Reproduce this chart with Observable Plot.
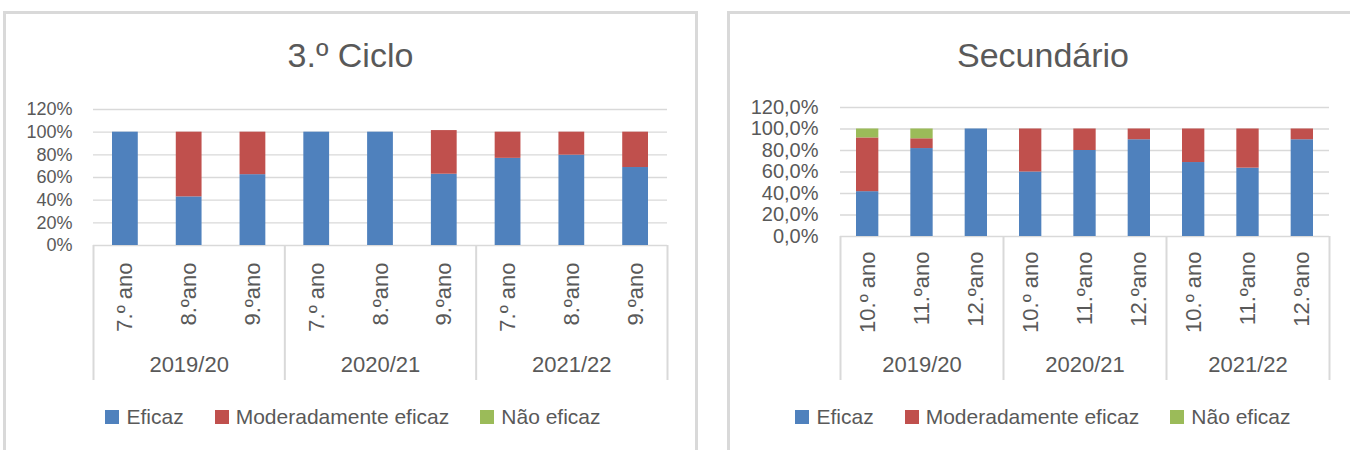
<!DOCTYPE html>
<html>
<head>
<meta charset="utf-8">
<script src="https://cdn.jsdelivr.net/npm/d3@7"></script>
<script src="https://cdn.jsdelivr.net/npm/@observablehq/plot@0.6"></script>
<style>
  html, body { margin: 0; padding: 0; background: #ffffff; }
  body { width: 1350px; height: 450px; overflow: hidden; position: relative;
         font-family: "Liberation Sans", Arial, sans-serif; color: #595959; }
  .panel { position: absolute; top: 11px; height: 470px; border: 3px solid #d9d9d9;
           border-bottom: none; box-sizing: border-box; }
  .title { position: absolute; text-align: center; font-size: 34px;
           line-height: 34px; color: #595959; }
  .chart { position: absolute; }
  .legend { position: absolute; }
  .lg-swatch { margin-right: 31px !important; }
  .lg-swatch:last-child { margin-right: 0 !important; }
  .lg-swatch > svg { margin-right: 7px !important; }
</style>
</head>
<body>
<div class="panel" id="p1" style="left:3px; width:695px;"></div>
<div class="panel" id="p2" style="left:727px; width:660px;"></div>
<div class="title" style="top:38px; left:3px; width:695px;">3.º Ciclo</div>
<div class="title" style="top:38px; left:727px; width:632px;">Secundário</div>
<div class="chart" id="c1" style="left:0px; top:80px;"></div>
<div class="chart" id="c2" style="left:720px; top:80px;"></div>
<div class="legend" id="l1" style="left:3px; width:700px; top:400px;"></div>
<div class="legend" id="l2" style="left:727px; width:632px; top:400px;"></div>
<script>
// ---------- data ----------
const years = ["2019/20", "2020/21", "2021/22"];
const seriesNames = ["Eficaz", "Moderadamente eficaz", "Não eficaz"];
const seriesColors = ["#4F81BD", "#C0504D", "#9BBB59"];

const cicloGrades = ["7.º ano", "8.ºano", "9.ºano"];
const cicloEficaz    = [100, 42.9, 62.5, 100, 100, 62.9, 76.9, 79.7, 68.8];
const cicloModerado  = [0,   57.1, 37.5, 0,   0,   38.5, 23.1, 20.3, 31.2];
const cicloNaoEficaz = [0,   0,    0,    0,   0,   0,    0,    0,    0];

const secGrades = ["10.º ano", "11.ºano", "12.ºano"];
const secEficaz    = [41.7, 81.8, 100, 60, 80, 90, 68.8, 63.6, 90];
const secModerado  = [50.0, 9.1,  0,   40, 20, 10, 31.2, 36.4, 10];
const secNaoEficaz = [8.3,  9.1,  0,   0,  0,  0,  0,    0,    0];

const yTicks = [0, 20, 40, 60, 80, 100, 120];

// ---------- drawing ----------
const FONT = '"Liberation Sans", Arial, sans-serif';
const TXT = "#595959";
const GRID = "#d9d9d9";

function makeChart(grades, series, fmt, g) {
  const rows = [];
  years.forEach((yr, gi) => grades.forEach((gr, k) => {
    const i = gi * grades.length + k;
    seriesNames.forEach((s, j) => {
      if (series[j][i] > 0) rows.push({pos: i, year: yr, grade: gr, series: s, value: series[j][i]});
    });
  }));
  const n = years.length * grades.length;
  const centers = d3.range(n).map(i => i + 0.5);
  const bounds = d3.range(years.length + 1).map(k => k * grades.length);
  const yearCenters = years.map((_, k) => k * grades.length + grades.length / 2);
  return Plot.plot({
    width: g.width, height: g.height,
    marginLeft: g.ml, marginRight: g.mr, marginTop: g.mt, marginBottom: g.mb,
    style: {fontFamily: FONT, color: TXT, background: "transparent", overflow: "visible"},
    x: {domain: [0, n]},
    y: {domain: [0, 120]},
    color: {domain: seriesNames, range: seriesColors},
    marks: [
      Plot.ruleY(yTicks, {stroke: GRID, strokeWidth: 1.4}),
      Plot.rectY(rows, {x1: "pos", x2: d => d.pos + 1, y: "value", fill: "series",
                        insetLeft: g.inset, insetRight: g.inset}),
      Plot.axisY(yTicks, {tickFormat: fmt, tickSize: 0, tickPadding: g.yPad,
                          fontSize: g.yFont, fill: TXT, label: null}),
      Plot.axisX(bounds, {tickSize: g.sepLen, tickFormat: () => "", stroke: GRID,
                          strokeWidth: 2, strokeOpacity: 1, label: null}),
      Plot.axisX(centers, {tickFormat: d => grades[Math.floor(d) % grades.length],
                           tickRotate: -90, tickSize: 0, tickPadding: g.gradePad,
                           fontSize: 22, fill: TXT, label: null}),
      Plot.axisX(yearCenters, {tickFormat: d => years[Math.floor(d / grades.length)],
                               tickSize: 0, tickPadding: g.yearPad,
                               fontSize: 22, fill: TXT, label: null})
    ]
  });
}

function addLegend(chart, el) {
  const leg = chart.legend("color", {
    className: "lg", swatchSize: 14,
    style: {fontSize: "21px", fontFamily: FONT, color: TXT, justifyContent: "center", margin: "0"}
  });
  el.appendChild(leg);
}

const c1 = makeChart(cicloGrades, [cicloEficaz, cicloModerado, cicloNaoEficaz],
  d => d + "%",
  {width: 697, height: 305, ml: 93, mr: 30, mt: 29, mb: 140, inset: 19,
   yPad: 21, yFont: 18, sepLen: 135, gradePad: 17, yearPad: 111});
document.getElementById("c1").appendChild(c1);
addLegend(c1, document.getElementById("l1"));

const c2 = makeChart(secGrades, [secEficaz, secModerado, secNaoEficaz],
  d => d.toFixed(1).replace(".", ",") + "%",
  {width: 630, height: 305, ml: 120, mr: 21, mt: 27, mb: 149, inset: 16,
   yPad: 22, yFont: 20, sepLen: 144, gradePad: 15, yearPad: 120});
document.getElementById("c2").appendChild(c2);
addLegend(c2, document.getElementById("l2"));
</script>
</body>
</html>
